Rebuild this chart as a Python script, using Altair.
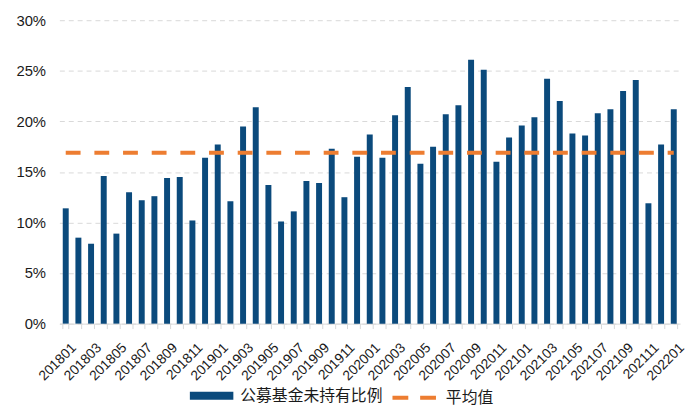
import altair as alt
import pandas as pd

months = [
    "201801", "201802", "201803", "201804", "201805", "201806", "201807", "201808", "201809", "201810", "201811", "201812",
    "201901", "201902", "201903", "201904", "201905", "201906", "201907", "201908", "201909", "201910", "201911", "201912",
    "202001", "202002", "202003", "202004", "202005", "202006", "202007", "202008", "202009", "202010", "202011", "202012",
    "202101", "202102", "202103", "202104", "202105", "202106", "202107", "202108", "202109", "202110", "202111", "202112",
    "202201",
]
ratio = [
    11.4, 8.5, 7.9, 14.6, 8.9, 13.0, 12.2, 12.6, 14.4, 14.5, 10.2, 16.4,
    17.7, 12.1, 19.5, 21.4, 13.7, 10.1, 11.1, 14.1, 13.9, 17.3, 12.5, 16.5,
    18.7, 16.4, 20.6, 23.4, 15.8, 17.5, 20.7, 21.6, 26.1, 25.1, 16.0, 18.4,
    19.6, 20.4, 24.2, 22.0, 18.8, 18.6, 20.8, 21.2, 23.0, 24.1, 11.9, 17.7,
    21.2,
]
avg_value = 16.9
bar_name = "公募基金未持有比例"
line_name = "平均值"
y_ticks = [0, 5, 10, 15, 20, 25, 30]

BLUE = "#0B4A7C"
ORANGE = "#ED7D31"
GRID = "#d9d9d9"
LATIN = "Liberation Sans"
CJK = "Noto Sans CJK SC"

bar_df = pd.DataFrame({"month": months, "ratio": ratio, "s": [bar_name] * len(months)})
line_df = pd.DataFrame({"month": months, "avg": [avg_value] * len(months), "s2": [line_name] * len(months)})

x_enc = alt.X(
    "month:O",
    sort=months,
    scale=alt.Scale(paddingInner=0.53, paddingOuter=0.265),
    axis=alt.Axis(
        labelExpr="toNumber(substring(datum.value, 4, 6)) % 2 == 1 ? datum.label : ''",
        labelAngle=315,
        labelAlign="right",
        labelBaseline="top",
        labelFont=LATIN,
        labelFontSize=14,
        labelColor="#1a1a1a",
        labelOffset=3,
        labelPadding=12,
        labelOverlap=False,
        labelLimit=0,
        tickBand="extent",
        tickSize=5,
        tickColor=GRID,
        domainColor=GRID,
        grid=False,
        title=None,
    ),
)

y_axis = alt.Axis(
    values=y_ticks,
    labelExpr="datum.value + '%'",
    grid=True,
    gridDash=[5, 4],
    gridColor=GRID,
    domain=False,
    ticks=False,
    labelPadding=14,
    labelFont=LATIN,
    labelFontSize=15,
    labelColor="#1a1a1a",
    title=None,
)

bars = alt.Chart(bar_df).mark_bar().encode(
    x=x_enc,
    y=alt.Y("ratio:Q", scale=alt.Scale(domain=[0, 30], nice=False), axis=y_axis),
    color=alt.Color(
        "s:N",
        scale=alt.Scale(domain=[bar_name], range=[BLUE]),
        legend=alt.Legend(
            orient="none",
            legendX=132,
            legendY=358,
            title=None,
            symbolType="M-1,-0.18H1V0.18H-1Z",
            symbolSize=1936,
            symbolStrokeWidth=0,
            labelFont=CJK,
            labelFontSize=16,
            labelColor="#1a1a1a",
            labelOffset=7,
            padding=0,
        ),
    ),
)

line = alt.Chart(line_df).mark_line(strokeWidth=4, strokeDash=[15, 14]).encode(
    x=x_enc,
    y=alt.Y("avg:Q"),
    color=alt.Color(
        "s2:N",
        scale=alt.Scale(domain=[line_name], range=[ORANGE]),
        legend=alt.Legend(
            orient="none",
            legendX=335,
            legendY=358,
            title=None,
            symbolType="stroke",
            symbolSize=1936,
            symbolStrokeWidth=4,
            symbolDash=[16, 12],
            labelFont=CJK,
            labelFontSize=16,
            labelColor="#1a1a1a",
            labelOffset=8,
            padding=0,
        ),
    ),
)

chart = (
    alt.layer(bars, line)
    .resolve_scale(color="independent")
    .properties(
        width=628,
        height=307,
        autosize=alt.AutoSizeParams(type="none"),
        padding={"left": 52, "top": 10, "right": 8, "bottom": 82},
    )
    .configure_view(stroke=None)
)

chart.save("out.html", embed_options={"renderer": "svg", "actions": False})
